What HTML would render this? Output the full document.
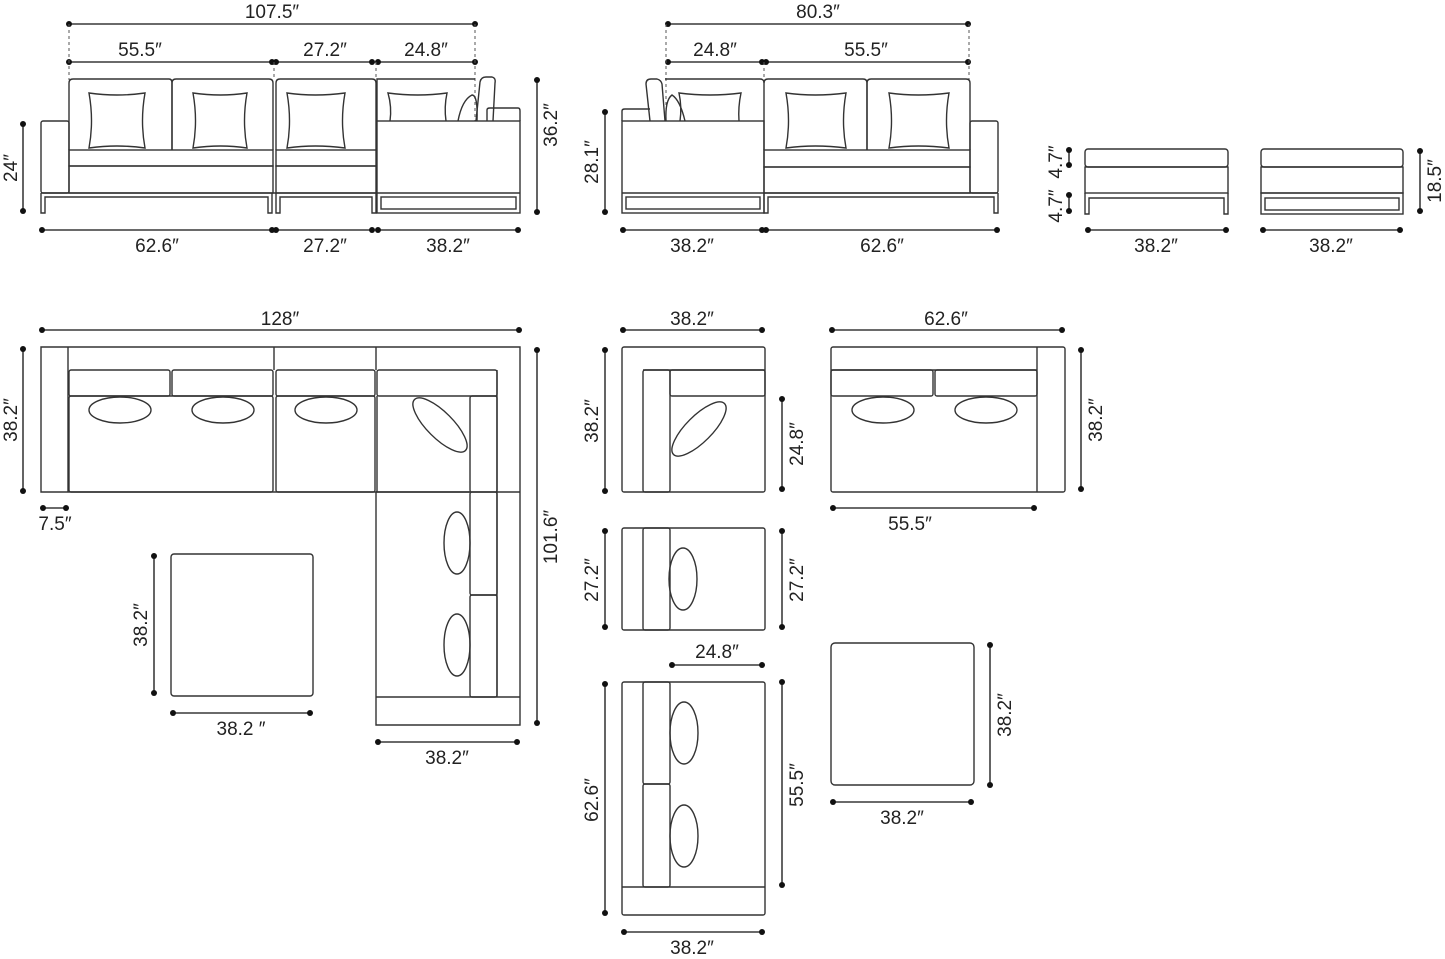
<!DOCTYPE html>
<html><head><meta charset="utf-8"><style>
html,body{margin:0;padding:0;background:#fff}
svg{display:block}
.s{fill:none;stroke:#333;stroke-width:1.4}
.d{stroke:#111;stroke-width:1.3}
.dash{stroke:#555;stroke-width:1;stroke-dasharray:3 3}
text{font-family:"Liberation Sans",sans-serif;font-size:19px;fill:#222}
</style></head><body>
<svg width="1445" height="959" viewBox="0 0 1445 959" xmlns="http://www.w3.org/2000/svg">
<g fill="#111">
<line class="d" x1="69" y1="24" x2="475" y2="24"/><circle cx="69" cy="24" r="3"/><circle cx="475" cy="24" r="3"/>
<line class="d" x1="69" y1="62" x2="272" y2="62"/><circle cx="69" cy="62" r="3"/><circle cx="272" cy="62" r="3"/>
<line class="d" x1="276" y1="62" x2="372" y2="62"/><circle cx="276" cy="62" r="3"/><circle cx="372" cy="62" r="3"/>
<line class="d" x1="378" y1="62" x2="475" y2="62"/><circle cx="378" cy="62" r="3"/><circle cx="475" cy="62" r="3"/>
<line class="d" x1="23" y1="124" x2="23" y2="211"/><circle cx="23" cy="124" r="3"/><circle cx="23" cy="211" r="3"/>
<line class="d" x1="537" y1="80" x2="537" y2="212"/><circle cx="537" cy="80" r="3"/><circle cx="537" cy="212" r="3"/>
<line class="d" x1="42" y1="230" x2="272" y2="230"/><circle cx="42" cy="230" r="3"/><circle cx="272" cy="230" r="3"/>
<line class="d" x1="276" y1="230" x2="372" y2="230"/><circle cx="276" cy="230" r="3"/><circle cx="372" cy="230" r="3"/>
<line class="d" x1="378" y1="230" x2="518" y2="230"/><circle cx="378" cy="230" r="3"/><circle cx="518" cy="230" r="3"/>
<line class="d" x1="668" y1="24" x2="968" y2="24"/><circle cx="668" cy="24" r="3"/><circle cx="968" cy="24" r="3"/>
<line class="d" x1="668" y1="62" x2="762" y2="62"/><circle cx="668" cy="62" r="3"/><circle cx="762" cy="62" r="3"/>
<line class="d" x1="766" y1="62" x2="968" y2="62"/><circle cx="766" cy="62" r="3"/><circle cx="968" cy="62" r="3"/>
<line class="d" x1="605" y1="112" x2="605" y2="212"/><circle cx="605" cy="112" r="3"/><circle cx="605" cy="212" r="3"/>
<line class="d" x1="623" y1="230" x2="762" y2="230"/><circle cx="623" cy="230" r="3"/><circle cx="762" cy="230" r="3"/>
<line class="d" x1="766" y1="230" x2="997" y2="230"/><circle cx="766" cy="230" r="3"/><circle cx="997" cy="230" r="3"/>
<line class="d" x1="1069" y1="150" x2="1069" y2="165"/><circle cx="1069" cy="150" r="3"/><circle cx="1069" cy="165" r="3"/>
<line class="d" x1="1069" y1="195" x2="1069" y2="211"/><circle cx="1069" cy="195" r="3"/><circle cx="1069" cy="211" r="3"/>
<line class="d" x1="1420" y1="151" x2="1420" y2="211"/><circle cx="1420" cy="151" r="3"/><circle cx="1420" cy="211" r="3"/>
<line class="d" x1="1088" y1="230" x2="1226" y2="230"/><circle cx="1088" cy="230" r="3"/><circle cx="1226" cy="230" r="3"/>
<line class="d" x1="1263" y1="230" x2="1400" y2="230"/><circle cx="1263" cy="230" r="3"/><circle cx="1400" cy="230" r="3"/>
<line class="d" x1="42" y1="330" x2="519" y2="330"/><circle cx="42" cy="330" r="3"/><circle cx="519" cy="330" r="3"/>
<line class="d" x1="23" y1="349" x2="23" y2="491"/><circle cx="23" cy="349" r="3"/><circle cx="23" cy="491" r="3"/>
<line class="d" x1="43" y1="508" x2="66" y2="508"/><circle cx="43" cy="508" r="3"/><circle cx="66" cy="508" r="3"/>
<line class="d" x1="537" y1="350" x2="537" y2="723"/><circle cx="537" cy="350" r="3"/><circle cx="537" cy="723" r="3"/>
<line class="d" x1="154" y1="556" x2="154" y2="693"/><circle cx="154" cy="556" r="3"/><circle cx="154" cy="693" r="3"/>
<line class="d" x1="173" y1="713" x2="310" y2="713"/><circle cx="173" cy="713" r="3"/><circle cx="310" cy="713" r="3"/>
<line class="d" x1="378" y1="742" x2="517" y2="742"/><circle cx="378" cy="742" r="3"/><circle cx="517" cy="742" r="3"/>
<line class="d" x1="623" y1="330" x2="762" y2="330"/><circle cx="623" cy="330" r="3"/><circle cx="762" cy="330" r="3"/>
<line class="d" x1="605" y1="350" x2="605" y2="491"/><circle cx="605" cy="350" r="3"/><circle cx="605" cy="491" r="3"/>
<line class="d" x1="782" y1="399" x2="782" y2="489"/><circle cx="782" cy="399" r="3"/><circle cx="782" cy="489" r="3"/>
<line class="d" x1="605" y1="531" x2="605" y2="627"/><circle cx="605" cy="531" r="3"/><circle cx="605" cy="627" r="3"/>
<line class="d" x1="782" y1="531" x2="782" y2="627"/><circle cx="782" cy="531" r="3"/><circle cx="782" cy="627" r="3"/>
<line class="d" x1="672" y1="665" x2="762" y2="665"/><circle cx="672" cy="665" r="3"/><circle cx="762" cy="665" r="3"/>
<line class="d" x1="605" y1="684" x2="605" y2="913"/><circle cx="605" cy="684" r="3"/><circle cx="605" cy="913" r="3"/>
<line class="d" x1="782" y1="682" x2="782" y2="885"/><circle cx="782" cy="682" r="3"/><circle cx="782" cy="885" r="3"/>
<line class="d" x1="624" y1="932" x2="762" y2="932"/><circle cx="624" cy="932" r="3"/><circle cx="762" cy="932" r="3"/>
<line class="d" x1="832" y1="330" x2="1062" y2="330"/><circle cx="832" cy="330" r="3"/><circle cx="1062" cy="330" r="3"/>
<line class="d" x1="1081" y1="350" x2="1081" y2="489"/><circle cx="1081" cy="350" r="3"/><circle cx="1081" cy="489" r="3"/>
<line class="d" x1="833" y1="508" x2="1034" y2="508"/><circle cx="833" cy="508" r="3"/><circle cx="1034" cy="508" r="3"/>
<line class="d" x1="990" y1="645" x2="990" y2="785"/><circle cx="990" cy="645" r="3"/><circle cx="990" cy="785" r="3"/>
<line class="d" x1="833" y1="802" x2="971" y2="802"/><circle cx="833" cy="802" r="3"/><circle cx="971" cy="802" r="3"/>
</g>
<line class="dash" x1="69" y1="24" x2="69" y2="80"/>
<line class="dash" x1="475" y1="24" x2="475" y2="121"/>
<line class="dash" x1="274" y1="62" x2="274" y2="80"/>
<line class="dash" x1="376" y1="62" x2="376" y2="80"/>
<line class="dash" x1="666" y1="24" x2="666" y2="121"/>
<line class="dash" x1="764" y1="62" x2="764" y2="80"/>
<line class="dash" x1="969" y1="24" x2="969" y2="80"/>

<g class="s">
<rect x="41" y="121" width="28" height="72" rx="2"/>
<path d="M69,150 V83 Q69,79 73,79 H169 Q172,79 172,83 V150"/>
<path d="M172,150 V83 Q172,79 176,79 H269 Q273,79 273,83 V150"/>
<path d="M276,150 V83 Q276,79 280,79 H372 Q376,79 376,83 V150"/>
<path d="M377,121 V79 H475"/>
<rect x="69" y="150" width="204" height="16"/>
<rect x="69" y="166" width="204" height="27"/>
<rect x="276" y="150" width="100" height="16"/>
<rect x="276" y="166" width="100" height="27"/>
<line x1="41" y1="193" x2="520" y2="193"/>
<path d="M41,193 V213 H45 V197 H268 V213 H272 V193"/>
<path d="M276,193 V213 H280 V197 H372 V213 H376 V193"/>
<rect x="377" y="121" width="143" height="92"/>
<rect x="381" y="197" width="135" height="12"/>
<path d="M476,121 L480,82 Q481,77 486,77 H492 Q496,78 495,83 L493,121"/>
<path d="M487,121 V110 Q487,108 490,108 H518 Q520,108 520,111 V121"/>
<path d="M458,121 Q462,100 472,95 Q478,95 477,121"/>
<path d="M89,93 Q117,97 145,93 Q140,121 145,148 Q117,144 89,148 Q94,121 89,93Z"/>
<path d="M193,93 Q221,97 247,93 Q242,121 247,148 Q221,144 193,148 Q198,121 193,93Z"/>
<path d="M287,93 Q315,97 345,93 Q340,121 345,148 Q315,144 287,148 Q292,121 287,93Z"/>
<path d="M390,121 Q392,107 388,93 Q418,97 447,93 Q444,107 446,121"/>

<path d="M622,121 V111 Q622,109 625,109 H650"/>
<path d="M650,121 L646,84 Q646,79 651,79 H657 Q661,80 662,84 L665,121"/>
<path d="M666,121 Q665,100 672,95 Q680,100 685,121"/>
<path d="M680,121 Q682,107 679,93 Q710,97 741,93 Q738,107 739,121"/>
<path d="M665,79 H760 Q764,79 764,83"/>
<rect x="622" y="121" width="142" height="92"/>
<line x1="622" y1="193" x2="764" y2="193"/>
<rect x="626" y="197" width="134" height="12"/>
<path d="M764,150 V83 Q764,79 768,79 H863 Q867,79 867,83 V150"/>
<path d="M867,150 V83 Q867,79 871,79 H966 Q970,79 970,83 V150"/>
<rect x="764" y="150" width="206" height="17"/>
<rect x="764" y="167" width="206" height="26"/>
<rect x="970" y="121" width="28" height="72" rx="2"/>
<line x1="764" y1="193" x2="998" y2="193"/>
<path d="M764,193 V213 H768 V197 H994 V213 H998 V193"/>
<path d="M786,93 Q815,97 846,93 Q841,121 846,148 Q815,144 786,148 Q791,121 786,93Z"/>
<path d="M889,93 Q918,97 949,93 Q944,121 949,148 Q918,144 889,148 Q894,121 889,93Z"/>

<rect x="1085" y="149" width="143" height="18" rx="3"/>
<rect x="1085" y="167" width="143" height="26"/>
<path d="M1085,193 V214 H1089 V198 H1224 V214 H1228 V193"/>
<rect x="1261" y="149" width="142" height="18" rx="3"/>
<rect x="1261" y="167" width="142" height="26"/>
<rect x="1261" y="193" width="142" height="21"/>
<rect x="1265" y="198" width="134" height="12"/>

<path d="M41,347 H520 V725 H376 V492 H41 Z"/>
<line x1="68" y1="347" x2="68" y2="492"/>
<line x1="274" y1="347" x2="274" y2="370"/>
<line x1="376" y1="347" x2="376" y2="370"/>
<path d="M497,370 V697"/>
<line x1="376" y1="697" x2="520" y2="697"/>
<line x1="497" y1="492" x2="520" y2="492"/>
<rect x="69" y="370" width="101" height="26" rx="2"/>
<rect x="172" y="370" width="101" height="26" rx="2"/>
<rect x="276" y="370" width="99" height="26" rx="2"/>
<rect x="377" y="370" width="120" height="26" rx="2"/>
<rect x="69" y="396" width="204" height="96" rx="2"/>
<rect x="276" y="396" width="99" height="96" rx="2"/>
<path d="M377,396 V492 H470"/>
<rect x="470" y="396" width="27" height="96" rx="2"/>
<rect x="470" y="492" width="27" height="103" rx="2"/>
<rect x="470" y="595" width="27" height="102" rx="2"/>
<path d="M376,492 H470"/>
<ellipse cx="120" cy="410" rx="31" ry="13"/>
<ellipse cx="223" cy="410" rx="31" ry="13"/>
<ellipse cx="326" cy="410" rx="31" ry="13"/>
<ellipse cx="440" cy="425" rx="36" ry="13" transform="rotate(45 440 425)"/>
<ellipse cx="457" cy="543" rx="13" ry="31"/>
<ellipse cx="457" cy="645" rx="13" ry="31"/>
<rect x="171" y="554" width="142" height="142" rx="3"/>

<rect x="622" y="347" width="143" height="145" rx="2"/>
<line x1="643" y1="370" x2="765" y2="370"/>
<rect x="643" y="370" width="27" height="122" rx="2"/>
<rect x="670" y="370" width="95" height="26" rx="2"/>
<ellipse cx="699" cy="429" rx="36" ry="13" transform="rotate(-45 699 429)"/>

<rect x="622" y="528" width="143" height="102" rx="2"/>
<rect x="643" y="528" width="27" height="102" rx="2"/>
<ellipse cx="683" cy="579" rx="14" ry="31"/>

<rect x="622" y="682" width="143" height="233" rx="2"/>
<line x1="622" y1="887" x2="765" y2="887"/>
<rect x="643" y="682" width="27" height="102" rx="2"/>
<rect x="643" y="784" width="27" height="103" rx="2"/>
<ellipse cx="684" cy="733" rx="14" ry="31"/>
<ellipse cx="684" cy="836" rx="14" ry="31"/>

<rect x="831" y="347" width="234" height="145" rx="2"/>
<line x1="1037" y1="347" x2="1037" y2="492"/>
<line x1="831" y1="370" x2="1037" y2="370"/>
<rect x="831" y="370" width="102" height="26" rx="2"/>
<rect x="935" y="370" width="102" height="26" rx="2"/>
<ellipse cx="883" cy="410" rx="31" ry="13"/>
<ellipse cx="986" cy="410" rx="31" ry="13"/>

<rect x="831" y="643" width="143" height="142" rx="4"/>
</g>

<g text-anchor="middle">
<text x="272" y="18">107.5″</text>
<text x="140" y="56">55.5″</text>
<text x="325" y="56">27.2″</text>
<text x="426" y="56">24.8″</text>
<text x="157" y="252">62.6″</text>
<text x="325" y="252">27.2″</text>
<text x="448" y="252">38.2″</text>
<text transform="translate(17,168) rotate(-90)">24″</text>
<text transform="translate(557,125) rotate(-90)">36.2″</text>

<text x="818" y="18">80.3″</text>
<text x="715" y="56">24.8″</text>
<text x="866" y="56">55.5″</text>
<text x="692" y="252">38.2″</text>
<text x="882" y="252">62.6″</text>
<text transform="translate(598,162) rotate(-90)">28.1″</text>

<text transform="translate(1062,162) rotate(-90)">4.7″</text>
<text transform="translate(1062,206) rotate(-90)">4.7″</text>
<text transform="translate(1441,181) rotate(-90)">18.5″</text>
<text x="1156" y="252">38.2″</text>
<text x="1331" y="252">38.2″</text>

<text x="280" y="325">128″</text>
<text transform="translate(17,420) rotate(-90)">38.2″</text>
<text x="55" y="530">7.5″</text>
<text transform="translate(557,537) rotate(-90)">101.6″</text>
<text transform="translate(147,625) rotate(-90)">38.2″</text>
<text x="241" y="735">38.2 ″</text>
<text x="447" y="764">38.2″</text>

<text x="692" y="325">38.2″</text>
<text transform="translate(598,421) rotate(-90)">38.2″</text>
<text transform="translate(803,444) rotate(-90)">24.8″</text>
<text transform="translate(598,580) rotate(-90)">27.2″</text>
<text transform="translate(803,580) rotate(-90)">27.2″</text>
<text x="717" y="658">24.8″</text>
<text transform="translate(598,800) rotate(-90)">62.6″</text>
<text transform="translate(803,785) rotate(-90)">55.5″</text>
<text x="692" y="954">38.2″</text>

<text x="946" y="325">62.6″</text>
<text transform="translate(1102,420) rotate(-90)">38.2″</text>
<text x="910" y="530">55.5″</text>
<text transform="translate(1011,715) rotate(-90)">38.2″</text>
<text x="902" y="824">38.2″</text>
</g>
</svg>
</body></html>
